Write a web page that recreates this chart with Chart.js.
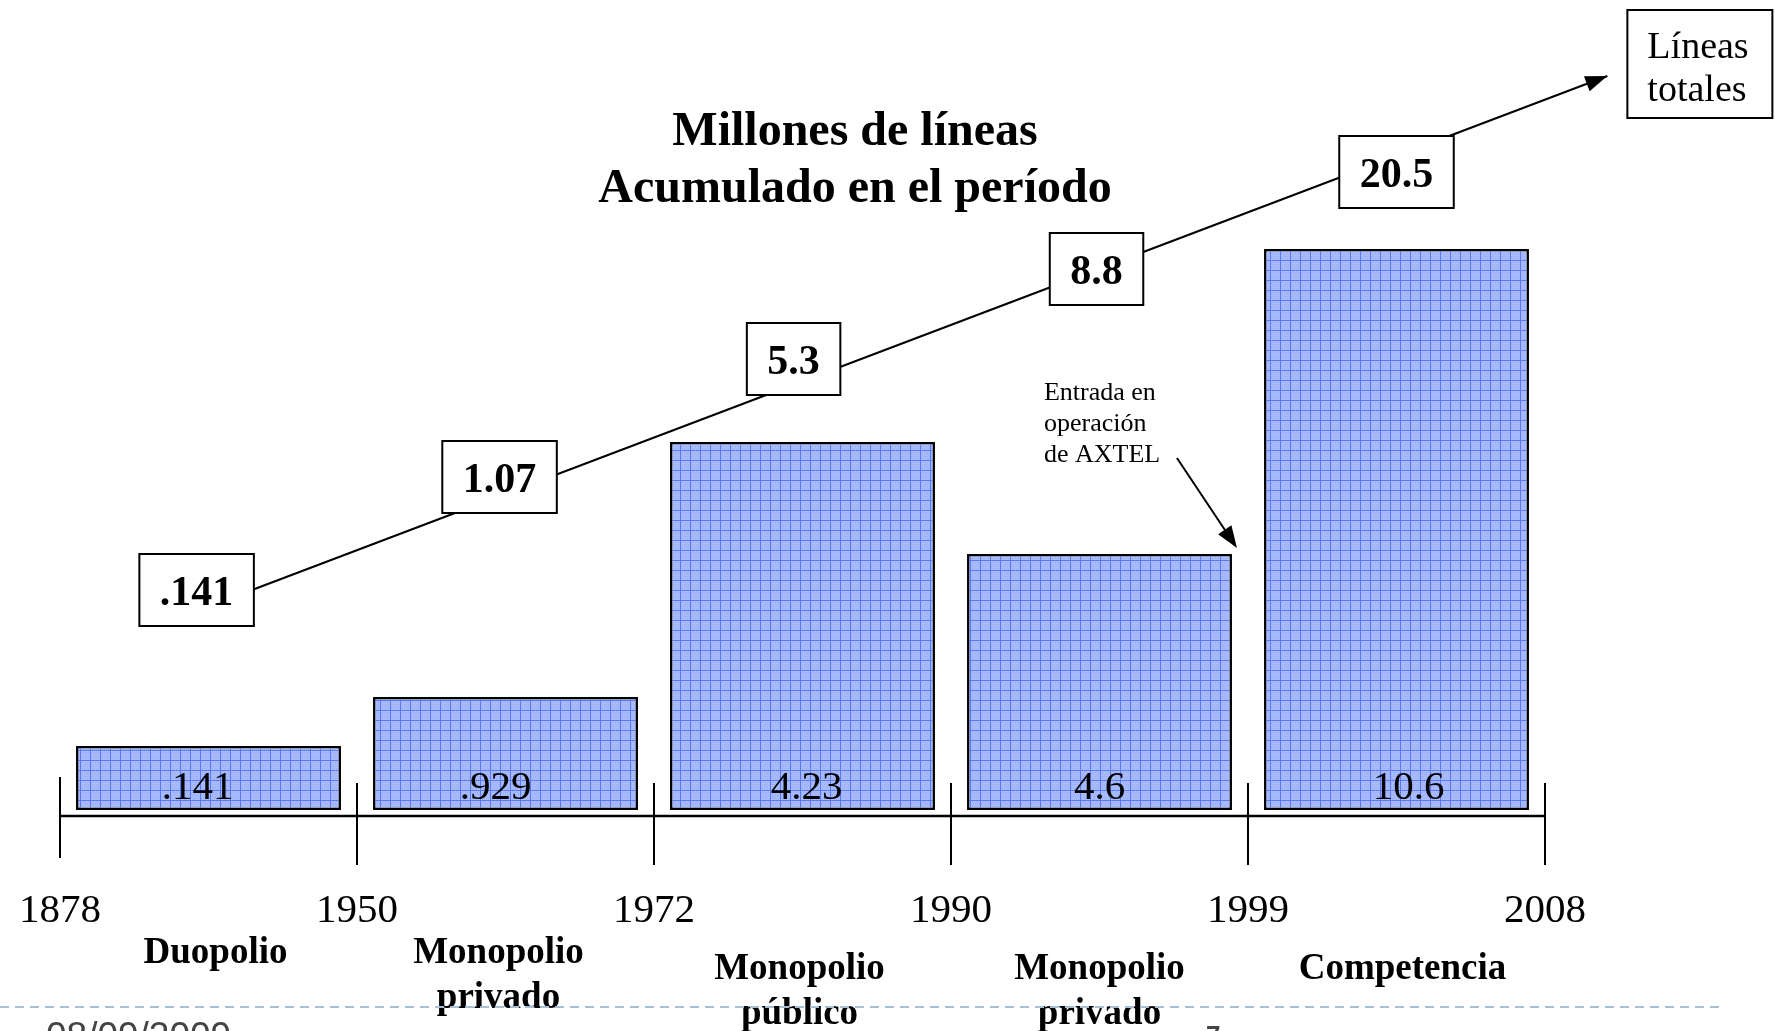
<!DOCTYPE html>
<html>
<head>
<meta charset="utf-8">
<script src="https://cdn.jsdelivr.net/npm/chart.js@4.4.1/dist/chart.umd.min.js"></script>
<style>
  html, body { margin: 0; padding: 0; background: #fff; }
  #wrap { width: 1775px; height: 1031px; position: relative; }
</style>
</head>
<body>
<div id="wrap"><canvas id="c"></canvas></div>
<script>
// ---------------- DATA ----------------
const titleLines = ['Millones de líneas', 'Acumulado en el período'];
const categories = [['Duopolio'], ['Monopolio', 'privado'], ['Monopolio', 'público'], ['Monopolio', 'privado'], ['Competencia']];
const years = ['1878', '1950', '1972', '1990', '1999', '2008'];
// lines added in each period (label shown inside each bar)
const periodValues = ['.141', '.929', '4.23', '4.6', '10.6'];
// drawn bar heights (as in the picture, not proportional to the labels)
const barHeights = [0.64, 1.13, 3.68, 2.56, 5.61];
// accumulated lines (boxed labels) and their positions along the trend
const cumulativeValues = ['.141', '1.07', '5.3', '8.8', '20.5'];
const cumulativeX = [0.46, 1.48, 2.47, 3.49, 4.50];
const cumulativeY = [2.20, 3.33, 4.51, 5.41, 6.38];
// trend arrow "Líneas totales"
const trendX = [0.46, 5.21];
const trendY = [1.99, 7.34];
const trendLabel = ['Líneas', 'totales'];
const noteLines = ['Entrada en', 'operación', 'de AXTEL'];
const footerDate = '08/09/2009';
const footerPage = '7';

// ---------------- STYLE ----------------
const SERIF = '"Liberation Serif", "Times New Roman", serif';
const canvas = document.getElementById('c');
const mainCtx = canvas.getContext('2d');

function makePattern() {
  const c = document.createElement('canvas');
  c.width = 10; c.height = 10;
  const g = c.getContext('2d');
  g.fillStyle = '#a0b5fc';
  g.fillRect(0, 0, 10, 10);
  g.fillStyle = 'rgba(255,255,255,0.18)';
  for (let yy = 1; yy < 10; yy += 2)
    for (let xx = 1 + ((yy - 1) / 2) % 2; xx < 10; xx += 2) g.fillRect(xx, yy, 1, 1);
  g.fillStyle = '#5a78f5';
  g.fillRect(0, 0, 10, 1);
  g.fillRect(0, 0, 1, 10);
  return mainCtx.createPattern(c, 'repeat');
}

function arrowHead(ctx, x0, y0, x1, y1, len, half) {
  const a = Math.atan2(y1 - y0, x1 - x0);
  ctx.beginPath();
  ctx.moveTo(x1, y1);
  ctx.lineTo(x1 - len * Math.cos(a) + half * Math.sin(a), y1 - len * Math.sin(a) - half * Math.cos(a));
  ctx.lineTo(x1 - len * Math.cos(a) - half * Math.sin(a), y1 - len * Math.sin(a) + half * Math.cos(a));
  ctx.closePath();
  ctx.fill();
}

const overlay = {
  id: 'overlay',
  beforeDatasetsDraw(chart) {
    const { ctx, scales: { x, y } } = chart;
    const base = y.getPixelForValue(0);
    const axisY = base + 6;
    ctx.save();
    // title
    ctx.fillStyle = '#000';
    ctx.textAlign = 'center';
    ctx.textBaseline = 'alphabetic';
    ctx.font = 'bold 48px ' + SERIF;
    ctx.fillText(titleLines[0], 855, 145);
    ctx.fillText(titleLines[1], 855, 202);
    // timeline
    ctx.strokeStyle = '#000';
    ctx.lineWidth = 2.5;
    ctx.beginPath();
    ctx.moveTo(x.getPixelForValue(0), axisY);
    ctx.lineTo(x.getPixelForValue(years.length - 1), axisY);
    ctx.stroke();
    ctx.lineWidth = 2;
    ctx.font = '41px ' + SERIF;
    years.forEach((yr, i) => {
      const px = x.getPixelForValue(i);
      const top = i === 0 ? axisY - 39 : axisY - 33;
      const bot = i === 0 ? axisY + 42 : axisY + 49;
      ctx.beginPath();
      ctx.moveTo(px, top);
      ctx.lineTo(px, bot);
      ctx.stroke();
      ctx.fillText(yr, px, base + 112);
    });
    // period names
    ctx.font = 'bold 37px ' + SERIF;
    const drop = [0, 0, 16, 16, 16];
    const shift = [7, -7, -3, 0, 6];
    categories.forEach((lines, i) => {
      const px = x.getPixelForValue(i + 0.5) + shift[i];
      lines.forEach((t, k) => ctx.fillText(t, px, base + 153 + drop[i] + k * 45));
    });
    // footer
    ctx.strokeStyle = '#a9bfd3';
    ctx.lineWidth = 2;
    ctx.setLineDash([9, 6]);
    ctx.beginPath();
    ctx.moveTo(0, 1007);
    ctx.lineTo(1723, 1007);
    ctx.stroke();
    ctx.setLineDash([]);
    ctx.fillStyle = '#444';
    ctx.textAlign = 'left';
    ctx.textBaseline = 'top';
    ctx.font = '37px "Liberation Sans", Arial, sans-serif';
    ctx.fillText(footerDate, 46, 1019);
    ctx.font = 'bold 26px "Liberation Sans", Arial, sans-serif';
    ctx.fillText(footerPage, 1206, 1024);
    ctx.restore();
  },
  afterDatasetsDraw(chart) {
    const { ctx, scales: { y } } = chart;
    const base = y.getPixelForValue(0);
    ctx.save();
    // values inside bars
    const bars = chart.getDatasetMeta(0).data;
    ctx.fillStyle = '#000';
    ctx.textAlign = 'center';
    ctx.textBaseline = 'alphabetic';
    ctx.font = '41px ' + SERIF;
    const vShift = [-11, -10, 4, 0, 12];
    bars.forEach((b, i) => ctx.fillText(periodValues[i], b.x + vShift[i], base - 11));
    // trend arrow head
    const tr = chart.getDatasetMeta(1).data;
    const p0 = tr[0], p1 = tr[tr.length - 1];
    arrowHead(ctx, p0.x, p0.y, p1.x, p1.y, 22, 8);
    // "Líneas totales" box
    ctx.lineWidth = 2;
    ctx.strokeStyle = '#000';
    ctx.fillStyle = '#fff';
    const lx = p1.x + 20, ly = 10;
    ctx.fillRect(lx, ly, 145, 108);
    ctx.strokeRect(lx, ly, 145, 108);
    ctx.fillStyle = '#000';
    ctx.textAlign = 'left';
    ctx.font = '38px ' + SERIF;
    ctx.fillText(trendLabel[0], lx + 20, 58);
    ctx.fillText(trendLabel[1], lx + 20, 101);
    // cumulative boxes
    const pts = chart.getDatasetMeta(2).data;
    ctx.font = 'bold 42px ' + SERIF;
    ctx.textAlign = 'center';
    pts.forEach((p, i) => {
      const w = ctx.measureText(cumulativeValues[i]).width + 41;
      const h = 72;
      ctx.fillStyle = '#fff';
      ctx.fillRect(p.x - w / 2, p.y - h / 2, w, h);
      ctx.strokeRect(p.x - w / 2, p.y - h / 2, w, h);
      ctx.fillStyle = '#000';
      ctx.fillText(cumulativeValues[i], p.x, p.y + 15);
    });
    // AXTEL note
    const b4 = bars[3];
    const right = b4.x + b4.width / 2;
    const top = b4.y;
    ctx.font = '26px ' + SERIF;
    ctx.textAlign = 'left';
    noteLines.forEach((t, k) => ctx.fillText(t, right - 188, top - 154 + k * 31));
    const tipX = right + 5, tipY = top - 6;
    ctx.lineWidth = 2;
    ctx.beginPath();
    ctx.moveTo(tipX - 60, tipY - 90);
    ctx.lineTo(tipX - 60 + 60 * 0.85, tipY - 90 + 90 * 0.85);
    ctx.stroke();
    arrowHead(ctx, tipX - 60, tipY - 90, tipX, tipY, 22, 8);
    ctx.restore();
  }
};

new Chart(canvas, {
  data: {
    datasets: [
      {
        type: 'bar',
        data: barHeights.map((h, i) => ({ x: i + 0.5, y: h })),
        backgroundColor: makePattern(),
        borderColor: '#000',
        borderWidth: 2.5,
        borderSkipped: false,
        barPercentage: 0.892,
        categoryPercentage: 1,
        order: 3
      },
      {
        type: 'line',
        data: trendX.map((v, i) => ({ x: v, y: trendY[i] })),
        borderColor: '#000',
        borderWidth: 2,
        pointRadius: 0,
        tension: 0,
        clip: false,
        order: 2
      },
      {
        type: 'scatter',
        data: cumulativeX.map((v, i) => ({ x: v, y: cumulativeY[i] })),
        pointRadius: 0,
        showLine: false,
        order: 1
      }
    ]
  },
  options: {
    responsive: true,
    maintainAspectRatio: false,
    animation: false,
    events: [],
    layout: { padding: { left: 60, right: 230, top: 30, bottom: 221 } },
    plugins: { legend: { display: false }, title: { display: false }, tooltip: { enabled: false } },
    scales: {
      x: { type: 'linear', min: 0, max: 5, offset: false, display: false, ticks: { stepSize: 1 } },
      y: { type: 'linear', min: 0, max: 7.8, display: false }
    }
  },
  plugins: [overlay]
});
</script>
</body>
</html>
